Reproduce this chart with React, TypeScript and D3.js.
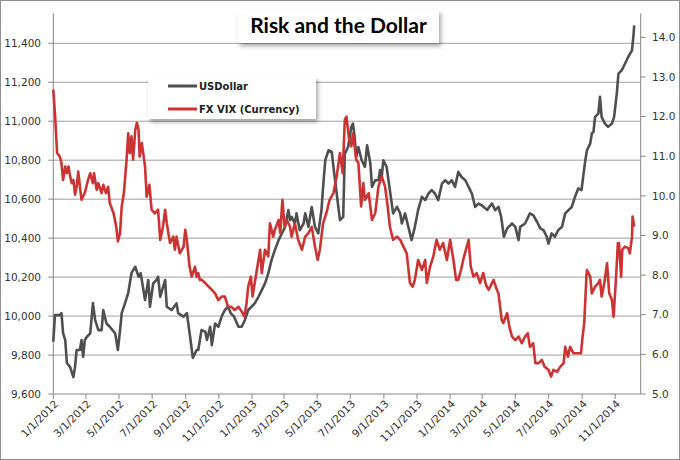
import React from "react";
import * as d3 from "d3";

// Days since 1 Jan 2012 and values
const usdDay = [0,3,12,15,18,22,25,31,37,40,43,49,52,55,58,62,68,73,77,83,89,92,98,104,114,119,123,126,132,138,144,151,157,161,169,175,178,184,190,193,197,206,209,218,227,230,240,246,252,257,264,267,273,280,283,289,292,298,304,310,316,322,327,333,341,347,353,359,365,371,378,384,390,396,402,408,415,421,427,433,436,439,445,448,454,461,464,470,476,482,488,494,497,501,507,513,516,522,528,534,537,543,549,552,555,558,562,568,574,578,584,587,593,599,602,605,608,614,620,626,633,639,642,648,654,660,666,672,679,685,691,697,703,709,716,722,728,734,740,746,752,759,765,771,777,783,789,799,808,814,820,825,830,836,845,851,857,860,869,878,884,891,897,903,909,912,918,924,930,937,943,949,955,961,967,973,976,980,983,989,992,995,998,1004,1007,1010,1016,1022,1029,1033,1038,1041,1047,1053,1059,1066,1069,1070];
const usdValue = [9868,10005,10005,10015,9913,9877,9759,9738,9687,9738,9826,9826,9877,9791,9877,9894,9911,10067,9980,9928,9928,10031,9962,9945,9911,9826,9928,10015,10065,10118,10220,10253,10202,10220,10082,10185,10048,10168,10185,10202,10100,10185,10048,10031,10065,10015,9997,10015,9894,9785,9826,9826,9928,9920,9877,9945,9851,9962,9945,9997,10031,10048,10014,9997,9945,9945,9980,10031,10048,10065,10099,10133,10168,10219,10287,10338,10390,10424,10458,10544,10492,10509,10475,10527,10441,10475,10527,10458,10560,10458,10424,10544,10663,10800,10851,10843,10766,10629,10492,10509,10834,10868,10971,10988,10920,10817,10868,10800,10766,10877,10783,10663,10697,10697,10749,10714,10800,10766,10646,10527,10560,10527,10475,10527,10458,10390,10458,10544,10612,10595,10629,10646,10629,10595,10680,10697,10680,10697,10663,10740,10714,10697,10663,10629,10560,10577,10569,10545,10578,10544,10560,10509,10407,10450,10475,10458,10390,10458,10475,10527,10518,10484,10450,10441,10407,10372,10424,10407,10441,10458,10527,10544,10560,10612,10655,10646,10714,10800,10851,10885,10937,10946,11022,11039,11125,11022,10988,10971,10988,11022,11142,11244,11261,11295,11330,11364,11450,11492];

const vixDay = [0,3,7,12,15,18,22,25,28,31,34,37,40,43,46,49,52,58,64,68,73,75,80,83,89,92,97,101,104,111,116,119,123,126,130,135,138,141,144,147,151,154,157,159,163,169,172,177,181,187,193,197,202,206,209,215,221,224,227,233,240,243,246,251,255,261,264,267,270,273,280,286,292,298,304,310,316,322,328,334,341,347,352,356,359,364,367,371,378,381,384,390,396,399,405,408,415,418,422,426,430,436,439,445,451,458,464,470,476,482,487,491,497,503,509,516,522,528,533,537,540,545,549,552,558,562,567,571,574,581,587,593,599,605,611,616,620,626,633,639,645,651,657,662,666,672,679,685,688,694,700,706,712,718,725,731,737,742,746,751,755,760,765,769,774,780,786,792,797,802,805,811,817,820,826,829,836,840,845,851,857,863,869,874,878,884,888,894,900,905,912,917,921,928,934,940,943,948,952,958,964,972,975,978,982,983,989,992,998,1004,1007,1010,1015,1020,1024,1029,1032,1036,1040,1042,1046,1048,1053,1059,1062,1066,1067,1070];
const vixValue = [12.68,12.09,11.08,10.99,10.83,10.40,10.74,10.57,10.74,10.49,10.32,10.40,10.03,10.23,10.61,10.23,9.90,10.07,10.40,10.57,10.32,10.57,10.15,10.32,10.07,10.28,10.07,10.23,9.82,9.56,9.22,8.85,9.06,9.73,10.07,10.91,11.58,11.08,11.50,10.91,11.67,11.84,11.67,10.99,11.33,10.74,9.98,10.28,9.65,9.56,9.65,8.89,9.22,9.65,9.31,8.81,8.97,8.64,8.97,8.55,8.72,9.14,8.89,8.21,7.96,8.21,7.96,8.05,7.88,7.88,7.80,7.71,7.63,7.54,7.37,7.46,7.46,7.20,7.20,7.12,7.20,7.08,6.95,7.29,7.71,7.96,7.46,7.80,8.38,8.64,8.05,8.64,8.47,9.31,8.97,9.14,9.39,9.06,9.90,9.22,9.39,9.22,8.97,9.31,8.89,8.64,8.97,9.06,9.22,8.72,8.38,8.64,9.31,9.56,9.90,10.07,10.49,11.08,10.57,11.92,12.00,11.41,11.25,11.58,10.91,10.83,9.73,10.32,9.90,10.07,9.39,9.56,10.24,10.49,10.24,9.73,9.22,8.89,8.97,8.89,8.72,8.55,7.80,7.71,7.88,8.38,8.13,8.38,7.80,8.21,8.47,8.89,8.64,8.81,8.38,8.89,8.38,7.88,7.88,8.13,8.38,8.64,8.89,8.21,7.96,8.05,7.80,8.05,7.75,7.63,7.71,7.88,7.63,7.54,6.87,6.79,7.04,6.70,6.45,6.36,6.45,6.28,6.45,6.53,6.19,6.28,5.78,5.78,5.86,5.69,5.61,5.44,5.61,5.56,5.69,5.78,6.19,5.94,6.19,6.03,6.03,6.03,6.45,6.79,7.96,8.13,7.96,7.54,7.71,7.80,7.88,7.46,7.80,8.30,7.54,7.37,6.95,7.80,8.81,8.81,7.96,8.64,8.72,8.68,8.55,8.97,9.48,9.22];

const leftTicks = [9600, 9800, 10000, 10200, 10400, 10600, 10800, 11000, 11200, 11400];
const rightTicks = [5, 6, 7, 8, 9, 10, 11, 12, 13, 14];
const seriesNames = ["USDollar", "FX VIX (Currency)"];
const titleText = "Risk and the Dollar";

const W = 680, H = 460;
const plotL = 53.3, plotR = 640.7, plotT = 13.3, plotB = 394;
const base = Date.UTC(2012, 0, 1);
const dayMs = 864e5;
const toDate = (d: number) => new Date(base + d * dayMs);

export default function App() {
  const x = d3.scaleUtc().domain([toDate(0), toDate(1082)]).range([plotL, plotR]);
  const yL = d3.scaleLinear().domain([9600, 11400]).range([plotB, 43.3]);
  const yR = d3.scaleLinear().domain([5, 14]).range([plotB, 37.3]);
  const xTicks = d3.utcMonth.every(2)!.range(toDate(0), toDate(1040));
  const fmt = d3.utcFormat("%-m/%-d/%Y");
  const fmtL = d3.format(",");
  const fmtR = d3.format(".1f");

  const usdLine = d3.line<number>().x((_, i) => x(toDate(usdDay[i]))).y((v) => yL(v));
  const vixLine = d3.line<number>().x((_, i) => x(toDate(vixDay[i]))).y((v) => yR(v));

  const axisColor = "#868686";
  const gridColor = "#a0a0a0";
  const labelColor = "#333";
  const grayC = "#4f4f4f";
  const redC = "#cc3333";

  return (
    <div style={{ position: "fixed", left: 0, top: 0 }}>
      <svg width={W} height={H} style={{ display: "block", background: "#fff" }}>
        <defs>
          <filter id="shadow" x="-10%" y="-20%" width="130%" height="160%">
            <feDropShadow dx="2" dy="3" stdDeviation="2" floodColor="#000" floodOpacity="0.35" />
          </filter>
        </defs>
        <rect x={0.5} y={0.5} width={W - 1} height={H - 1} fill="#fff" stroke="#8c8c8c" />
        {/* gridlines */}
        {leftTicks.slice(1).map((t) => (
          <line key={t} x1={plotL} x2={plotR} y1={yL(t)} y2={yL(t)} stroke={gridColor} strokeWidth={1} />
        ))}
        {/* axes */}
        <line x1={plotL} x2={plotL} y1={plotT} y2={plotB} stroke={axisColor} />
        <line x1={plotR} x2={plotR} y1={plotT} y2={plotB} stroke={axisColor} />
        <line x1={plotL} x2={plotR} y1={plotB} y2={plotB} stroke={axisColor} />
        {leftTicks.map((t) => (
          <g key={t}>
            <line x1={plotL - 5} x2={plotL} y1={yL(t)} y2={yL(t)} stroke={axisColor} />
            <text x={41} y={yL(t)} dy="0.35em" textAnchor="end" fontFamily="DejaVu Sans" fontSize={10.5} fill={labelColor}>
              {fmtL(t)}
            </text>
          </g>
        ))}
        {rightTicks.map((t) => (
          <g key={t}>
            <line x1={plotR} x2={plotR + 5} y1={yR(t)} y2={yR(t)} stroke={axisColor} />
            <text x={652} y={yR(t)} dy="0.35em" textAnchor="start" fontFamily="DejaVu Sans" fontSize={10.5} fill={labelColor}>
              {fmtR(t)}
            </text>
          </g>
        ))}
        {xTicks.map((d) => (
          <g key={+d}>
            <line x1={x(d)} x2={x(d)} y1={plotB} y2={plotB + 5} stroke={axisColor} />
            <text
              transform={`translate(${x(d) + 3},${plotB + 8}) rotate(-45)`}
              textAnchor="end"
              dy="0.35em"
              fontFamily="DejaVu Sans"
              fontSize={10.5}
              fill={labelColor}
            >
              {fmt(d)}
            </text>
          </g>
        ))}
        {/* series */}
        <path d={usdLine(usdValue) || ""} fill="none" stroke={grayC} strokeWidth={2.6} strokeLinejoin="round" />
        <path d={vixLine(vixValue) || ""} fill="none" stroke={redC} strokeWidth={2.6} strokeLinejoin="round" />
        {/* title */}
        <rect x={238} y={10} width={201} height={33} fill="#fff" filter="url(#shadow)" />
        <text x={338.5} y={33} textAnchor="middle" fontFamily="Lato" fontWeight="bold" fontSize={21} fill="#000">
          {titleText}
        </text>
        {/* legend */}
        <rect x={148} y={77} width={168} height={42} fill="#fff" filter="url(#shadow)" />
        <line x1={168} x2={197} y1={86} y2={86} stroke={grayC} strokeWidth={3} />
        <line x1={168} x2={197} y1={109} y2={109} stroke={redC} strokeWidth={3} />
        <text x={199} y={86} dy="0.35em" fontFamily="DejaVu Sans" fontWeight="bold" fontSize={10} fill="#222">
          {seriesNames[0]}
        </text>
        <text x={199} y={109} dy="0.35em" fontFamily="DejaVu Sans" fontWeight="bold" fontSize={10} fill="#222">
          {seriesNames[1]}
        </text>
      </svg>
    </div>
  );
}
